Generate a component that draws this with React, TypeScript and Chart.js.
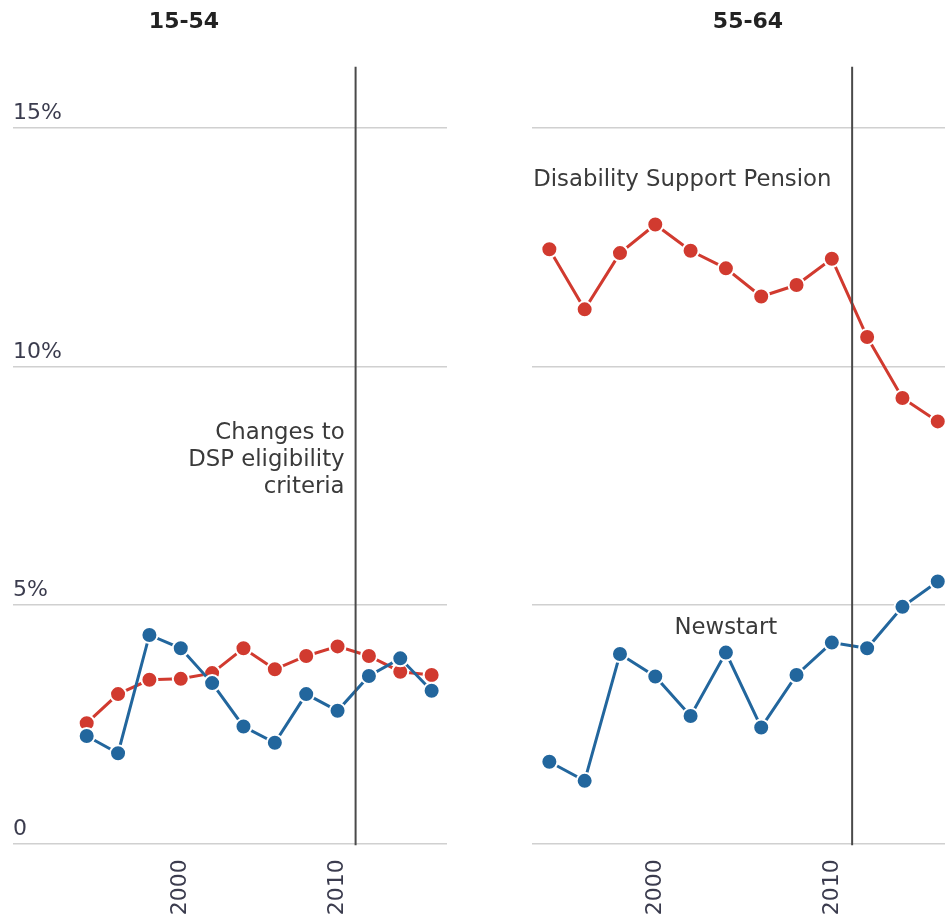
import React, { useEffect, useRef } from "react";
import { Chart, registerables } from "chart.js";

Chart.register(...registerables);

// ---- data ----
const years = [1994, 1996, 1998, 2000, 2002, 2004, 2006, 2008, 2010, 2012, 2014, 2016];
const dsp1554 = [2.52, 3.13, 3.43, 3.45, 3.57, 4.09, 3.65, 3.93, 4.13, 3.93, 3.6, 3.53];
const newstart1554 = [2.25, 1.89, 4.37, 4.09, 3.36, 2.45, 2.11, 3.13, 2.78, 3.51, 3.88, 3.2];
const dsp5564 = [12.46, 11.2, 12.38, 12.98, 12.43, 12.06, 11.47, 11.71, 12.26, 10.62, 9.34, 8.85];
const newstart5564 = [1.71, 1.31, 3.97, 3.5, 2.67, 4.0, 2.43, 3.53, 4.21, 4.09, 4.96, 5.49];
const yTicks = [0, 5, 10, 15];
const yTickLabels = ["0", "5%", "10%", "15%"];
const xTicks = [2000, 2010];
const panelTitles = ["15-54", "55-64"];
const policyChangeYear = 2011.15;
const policyNote = ["Changes to", "DSP eligibility", "criteria"];
const seriesNames = ["Newstart", "Disability Support Pension"];

// ---- styles ----
const FONT = "DejaVu Sans";
const RED = "#d13a2f";
const BLUE = "#22669d";
const GRID = "#d0d0d0";
const TEXT = "#3a3a3a";
const TICK = "#3b3c4e";

Chart.defaults.font.family = FONT;

const toPoints = (vals: number[]) => years.map((x, i) => ({ x, y: vals[i] }));

const dsStyle = (color: string) => ({
  borderColor: color,
  backgroundColor: color,
  pointBackgroundColor: color,
  pointBorderColor: "#ffffff",
  pointBorderWidth: 2,
  pointRadius: 8,
  borderWidth: 3,
  tension: 0,
  clip: false as const,
});

const overlayPlugin = {
  id: "overlay",
  afterDatasetsDraw(chart: any, _args: any, opts: any) {
    const { ctx, chartArea } = chart;
    const xs = chart.scales.x;
    const ys = chart.scales.y;
    const lx = xs.getPixelForValue(policyChangeYear);
    ctx.save();
    ctx.strokeStyle = "#4a4a4a";
    ctx.lineWidth = 2;
    ctx.beginPath();
    ctx.moveTo(lx, chartArea.top);
    ctx.lineTo(lx, chartArea.bottom + 2);
    ctx.stroke();

    ctx.fillStyle = TEXT;
    ctx.font = `22.8px "${FONT}"`;
    ctx.textBaseline = "middle";
    (opts.notes || []).forEach((n: any) => {
      ctx.textAlign = n.align;
      const x = n.atLine ? lx + n.dx : n.x !== undefined ? xs.getPixelForValue(n.x) : chartArea.left + n.dx;
      const y0 = ys.getPixelForValue(n.y);
      n.lines.forEach((t: string, i: number) => {
        ctx.fillText(t, x, y0 + (i - (n.lines.length - 1) / 2) * 27);
      });
    });

    ctx.fillStyle = "#222";
    ctx.font = `bold 22px "${FONT}"`;
    ctx.textAlign = "center";
    ctx.fillText(opts.title, opts.titleX, 22);
    ctx.restore();
  },
};

function makeConfig(
  dsp: number[],
  ns: number[],
  xMin: number,
  xMax: number,
  padLeft: number,
  padRight: number,
  showY: boolean,
  title: string,
  titleX: number,
  notes: any[]
): any {
  return {
    type: "line",
    data: {
      datasets: [
        { label: seriesNames[0], data: toPoints(ns), ...dsStyle(BLUE) },
        { label: seriesNames[1], data: toPoints(dsp), ...dsStyle(RED) },
      ],
    },
    options: {
      responsive: false,
      animation: false,
      layout: { padding: { left: padLeft, right: padRight, top: 66.7, bottom: 0 } },
      plugins: {
        legend: { display: false },
        tooltip: { enabled: false },
        title: { display: false },
        overlay: { title, titleX, notes },
      },
      scales: {
        x: {
          type: "linear",
          min: xMin,
          max: xMax,
          grid: { display: false },
          border: { display: false },
          afterBuildTicks: (s: any) => {
            s.ticks = xTicks.map((v) => ({ value: v }));
          },
          afterFit: (s: any) => {
            s.height = 923 - 843.3;
          },
          ticks: {
            autoSkip: false,
            minRotation: 90,
            maxRotation: 90,
            padding: 8,
            color: TICK,
            font: { size: 22, family: FONT },
            callback: (v: any) => String(v),
          },
        },
        y: {
          type: "linear",
          min: 0,
          max: 16.29,
          grid: { color: GRID, lineWidth: 1.6, drawTicks: false },
          border: { display: false },
          afterBuildTicks: (s: any) => {
            s.ticks = yTicks.map((v) => ({ value: v }));
          },
          afterFit: (s: any) => {
            s.width = 0;
          },
          ticks: {
            display: showY,
            mirror: true,
            padding: 0,
            labelOffset: -14.5,
            color: TICK,
            font: { size: 22, family: FONT },
            callback: (v: any) => {
              const i = yTicks.indexOf(Number(v));
              return i >= 0 ? yTickLabels[i] : "";
            },
          },
        },
      },
    },
    plugins: [overlayPlugin],
  };
}

export default function App() {
  const leftRef = useRef<HTMLCanvasElement>(null);
  const rightRef = useRef<HTMLCanvasElement>(null);

  useEffect(() => {
    const c1 = new Chart(
      leftRef.current!,
      makeConfig(dsp1554, newstart1554, 1989.3, 2016.98, 13, 28, true, panelTitles[0], 184, [
        { lines: policyNote, atLine: true, dx: -11, y: 8.04, align: "right" },
      ])
    );
    const c2 = new Chart(
      rightRef.current!,
      makeConfig(dsp5564, newstart5564, 1993.0, 2016.41, 41.7, 0, false, panelTitles[1], 258, [
        { lines: [seriesNames[1]], dx: 1.5, y: 13.92, align: "left" },
        { lines: [seriesNames[0]], x: 2004, y: 4.52, align: "center" },
      ])
    );
    return () => {
      c1.destroy();
      c2.destroy();
    };
  }, []);

  return (
    <div
      style={{
        position: "absolute",
        left: 0,
        top: 0,
        width: 945,
        height: 923,
        overflow: "hidden",
        background: "#ffffff",
      }}
    >
      <canvas
        ref={leftRef}
        width={475}
        height={923}
        style={{ position: "absolute", left: 0, top: 0, display: "block" }}
      />
      <canvas
        ref={rightRef}
        width={465}
        height={923}
        style={{ position: "absolute", left: 490, top: 0, display: "block" }}
      />
    </div>
  );
}
